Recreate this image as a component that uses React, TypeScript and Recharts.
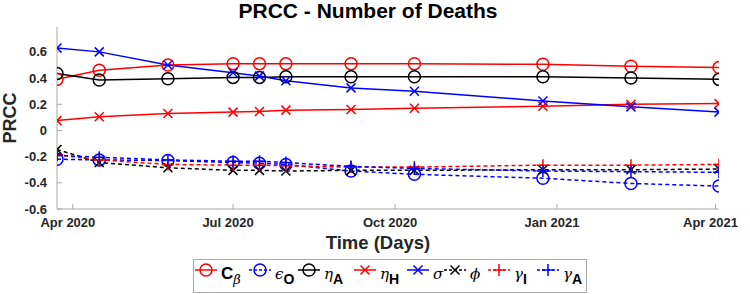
import React from "react";
import { Line, LineChart, XAxis, YAxis } from "recharts";

const dates = [
  "2020-03-23", "2020-04-16", "2020-05-25", "2020-07-01", "2020-07-16", "2020-07-31",
  "2020-09-06", "2020-10-12", "2020-12-24", "2021-02-12", "2021-04-03",
];

const cBeta = [0.39, 0.46, 0.5, 0.51, 0.51, 0.51, 0.51, 0.51, 0.505, 0.49, 0.48];
const epsO = [-0.22, -0.225, -0.23, -0.245, -0.25, -0.26, -0.31, -0.335, -0.365, -0.405, -0.425];
const etaA = [0.435, 0.385, 0.395, 0.405, 0.405, 0.41, 0.41, 0.41, 0.41, 0.4, 0.39];
const etaH = [0.075, 0.105, 0.13, 0.14, 0.145, 0.155, 0.16, 0.17, 0.185, 0.2, 0.205];
const sigma = [0.63, 0.6, 0.5, 0.44, 0.415, 0.38, 0.325, 0.3, 0.225, 0.18, 0.14];
const phi = [-0.145, -0.245, -0.285, -0.305, -0.305, -0.31, -0.305, -0.305, -0.3, -0.3, -0.295];
const gammaI = [-0.185, -0.225, -0.26, -0.265, -0.265, -0.27, -0.28, -0.28, -0.265, -0.265, -0.26];
const gammaA = [-0.19, -0.205, -0.225, -0.235, -0.235, -0.245, -0.275, -0.29, -0.31, -0.315, -0.32];

const xTicks = ["2020-04-01", "2020-07-01", "2020-10-01", "2021-01-01", "2021-04-01"];
const xTickLabels = ["Apr 2020", "Jul 2020", "Oct 2020", "Jan 2021", "Apr 2021"];
const yTicks = [-0.6, -0.4, -0.2, 0, 0.2, 0.4, 0.6];

const FONT = '"Liberation Sans", Arial, Helvetica, sans-serif';
const SERIF = '"DejaVu Serif", "Liberation Serif", serif';
const AXIS = "#a8a8a8";
const RED = "#ff0000";
const BLUE = "#0000ff";
const BLACK = "#000000";

const data = dates.map((d, i) => ({
  t: Date.parse(d),
  cBeta: cBeta[i],
  epsO: epsO[i],
  etaA: etaA[i],
  etaH: etaH[i],
  sigma: sigma[i],
  phi: phi[i],
  gammaI: gammaI[i],
  gammaA: gammaA[i],
}));

const tickTs = xTicks.map((d) => Date.parse(d));
const xDomain = [Date.parse(dates[0]), Date.parse(dates[dates.length - 1])];

type Shape = "circle" | "x" | "plus";

function Marker({ shape, cx, cy, color }: { shape: Shape; cx: number; cy: number; color: string }) {
  if (shape === "circle") {
    return <circle cx={cx} cy={cy} r={6} fill="none" stroke={color} strokeWidth={1.5} />;
  }
  if (shape === "x") {
    const s = 4.5;
    return (
      <path
        d={`M${cx - s},${cy - s}L${cx + s},${cy + s}M${cx - s},${cy + s}L${cx + s},${cy - s}`}
        stroke={color}
        strokeWidth={1.5}
        fill="none"
      />
    );
  }
  const s = 6;
  return (
    <path
      d={`M${cx - s},${cy}L${cx + s},${cy}M${cx},${cy - s}L${cx},${cy + s}`}
      stroke={color}
      strokeWidth={1.5}
      fill="none"
    />
  );
}

const dotFor = (shape: Shape, color: string) => (p: any) =>
  <Marker key={`${shape}-${color}-${p.index}`} shape={shape} cx={p.cx} cy={p.cy} color={color} />;

const series = [
  { key: "cBeta", color: RED, shape: "circle" as Shape, dashed: false },
  { key: "epsO", color: BLUE, shape: "circle" as Shape, dashed: true },
  { key: "etaA", color: BLACK, shape: "circle" as Shape, dashed: false },
  { key: "etaH", color: RED, shape: "x" as Shape, dashed: false },
  { key: "sigma", color: BLUE, shape: "x" as Shape, dashed: false },
  { key: "phi", color: BLACK, shape: "x" as Shape, dashed: true },
  { key: "gammaI", color: RED, shape: "plus" as Shape, dashed: true },
  { key: "gammaA", color: BLUE, shape: "plus" as Shape, dashed: true },
];

// legend labels: main glyph + subscript
const legendItems = [
  { main: "C", sub: "β", greek: false, subGreek: true, left: 0 },
  { main: "ϵ", sub: "O", greek: true, subGreek: false, left: 54 },
  { main: "η", sub: "A", greek: true, subGreek: false, left: 103 },
  { main: "η", sub: "H", greek: true, subGreek: false, left: 159 },
  { main: "σ", sub: "", greek: true, subGreek: false, left: 212 },
  { main: "ϕ", sub: "", greek: true, subGreek: false, left: 249 },
  { main: "γ", sub: "I", greek: true, subGreek: false, left: 293 },
  { main: "γ", sub: "A", greek: true, subGreek: false, left: 342 },
];

function ChartLegend() {
  return (
    <svg width={395} height={35} style={{ position: "absolute", left: 193, top: 259 }}>
      <rect x={0.5} y={0.5} width={393} height={33} fill="#fff" stroke={AXIS} strokeWidth={1} />
      {legendItems.map((it, i) => {
        const s = series[i];
        return (
          <g key={s.key} transform={`translate(${it.left + 2},0)`}>
            <line
              x1={0}
              x2={22}
              y1={11}
              y2={11}
              stroke={s.color}
              strokeWidth={1.5}
              strokeDasharray={s.dashed ? "3 2" : undefined}
            />
            <Marker shape={s.shape} cx={11} cy={11} color={s.color} />
            <text
              x={26}
              y={20}
              fontFamily={it.greek ? SERIF : FONT}
              fontStyle={it.greek ? "italic" : "normal"}
              fontWeight={it.greek ? "normal" : "bold"}
              fontSize={it.greek ? 15 : 17}
              fill="#000"
            >
              {it.main}
              {it.sub && (
                <tspan
                  dy={5}
                  fontFamily={it.subGreek ? SERIF : FONT}
                  fontStyle={it.subGreek ? "italic" : "normal"}
                  fontWeight={it.subGreek ? "normal" : "bold"}
                  fontSize={it.subGreek ? 13 : 14}
                >
                  {it.sub}
                </tspan>
              )}
            </text>
          </g>
        );
      })}
    </svg>
  );
}

export default function App() {
  return (
    <div style={{ position: "absolute", left: 0, top: 0, width: 750, height: 294, background: "#fff", fontFamily: FONT }}>
      <svg width={750} height={30} style={{ position: "absolute", left: 0, top: 0 }}>
        <text x={368} y={18} textAnchor="middle" fontFamily={FONT} fontWeight="bold" fontSize={21} fill="#000">
          PRCC - Number of Deaths
        </text>
      </svg>
      <LineChart width={750} height={294} data={data} margin={{ top: 27, right: 31, bottom: 35, left: 0 }}>
        <XAxis
          xAxisId="b"
          dataKey="t"
          type="number"
          domain={xDomain}
          allowDataOverflow
          ticks={tickTs}
          interval={0}
          tickFormatter={(v: number) => xTickLabels[tickTs.indexOf(v)] ?? ""}
          height={50}
          tickSize={-5}
          tickMargin={14}
          stroke={AXIS}
          tick={{ fill: "#262626", fontSize: 13, fontWeight: "bold", fontFamily: FONT, dx: -5 }}
          label={{
            content: () => (
              <text x={378} y={249} textAnchor="middle" fontFamily={FONT} fontWeight="bold" fontSize={18.5} fill="#262626">
                Time (Days)
              </text>
            ),
          }}
        />
        <XAxis
          xAxisId="t"
          orientation="top"
          dataKey="t"
          type="number"
          domain={xDomain}
          allowDataOverflow
          ticks={tickTs}
          interval={0}
          height={0}
          tickSize={-5}
          tick={false}
          stroke={AXIS}
        />
        <YAxis
          yAxisId="l"
          type="number"
          domain={[-0.6, 0.79]}
          allowDataOverflow
          ticks={yTicks}
          interval={0}
          width={57}
          tickSize={-5}
          tickMargin={15}
          stroke={AXIS}
          tickFormatter={(v: number) => String(Math.round(v * 10) / 10)}
          tick={{ fill: "#262626", fontSize: 13, fontWeight: "bold", fontFamily: FONT }}
          label={{
            content: () => (
              <text
                x={15.5}
                y={118}
                transform="rotate(-90, 15.5, 118)"
                textAnchor="middle"
                fontFamily={FONT}
                fontWeight="bold"
                fontSize={18}
                fill="#262626"
              >
                PRCC
              </text>
            ),
          }}
        />
        <YAxis
          yAxisId="r"
          orientation="right"
          type="number"
          domain={[-0.6, 0.79]}
          allowDataOverflow
          ticks={yTicks}
          interval={0}
          width={0}
          tickSize={-5}
          tick={false}
          stroke={AXIS}
        />
        {series.map((s) => (
          <Line
            key={s.key}
            xAxisId="b"
            yAxisId="l"
            type="linear"
            dataKey={s.key}
            stroke={s.color}
            strokeWidth={1.5}
            strokeDasharray={s.dashed ? "4 3" : undefined}
            dot={dotFor(s.shape, s.color)}
            activeDot={false}
            isAnimationActive={false}
          />
        ))}
      </LineChart>
      <ChartLegend />
    </div>
  );
}
